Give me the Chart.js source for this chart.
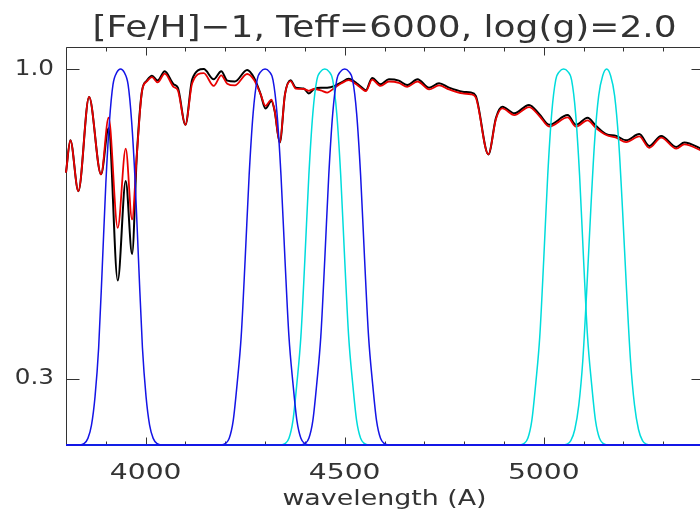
<!DOCTYPE html>
<html><head><meta charset="utf-8">
<script src="https://cdn.jsdelivr.net/npm/chart.js@4/dist/chart.umd.min.js"></script>
<style>html,body{margin:0;padding:0;overflow:hidden;background:#fff}</style>
</head><body>
<canvas id="c" width="708" height="515" style="width:708px;height:515px"></canvas>
<script>
const titleText = '[Fe/H]\u22121, Teff=6000, log(g)=2.0';
const xAxisTitle = 'wavelength (A)';
const xTickValues = [4000, 4500, 5000];
const yTickValues = [0.3, 1.0];

const specWave  = [3800,3811,3831,3858,3888,3907,3930,3950,3966,3978,3991,4003,4016,4030,4048,4070,4081,4100,4117,4146,4171,4190,4205,4224,4255,4272,4289,4301,4316,4324,4337,4350,4364,4377,4397,4410,4423,4440,4456,4475,4492,4510,4530,4544,4553,4569,4590,4611,4636,4657,4683,4712,4737,4762,4796,4817,4829,4861,4880,4896,4926,4963,4989,5014,5060,5081,5110,5131,5157,5182,5207,5240,5265,5295,5333,5353,5400];
const specBlack = [0.766,0.839,0.724,0.937,0.762,0.866,0.522,0.747,0.582,0.807,0.951,0.974,0.985,0.974,0.995,0.966,0.958,0.874,0.977,1.000,0.977,0.995,0.974,0.972,0.998,0.981,0.943,0.911,0.928,0.906,0.834,0.943,0.975,0.958,0.956,0.945,0.955,0.958,0.958,0.962,0.970,0.978,0.968,0.958,0.952,0.980,0.966,0.977,0.974,0.964,0.977,0.958,0.968,0.958,0.949,0.947,0.940,0.807,0.890,0.915,0.900,0.919,0.898,0.874,0.896,0.874,0.890,0.872,0.853,0.849,0.839,0.853,0.826,0.849,0.824,0.834,0.818];
const specRed   = [0.766,0.839,0.724,0.937,0.762,0.890,0.641,0.820,0.660,0.807,0.951,0.972,0.982,0.970,0.990,0.960,0.952,0.874,0.968,0.991,0.962,0.986,0.967,0.963,0.989,0.976,0.943,0.917,0.931,0.906,0.834,0.943,0.973,0.956,0.955,0.951,0.955,0.952,0.947,0.958,0.968,0.975,0.965,0.955,0.950,0.976,0.962,0.972,0.969,0.960,0.972,0.954,0.963,0.954,0.945,0.943,0.936,0.807,0.887,0.911,0.896,0.914,0.894,0.870,0.891,0.870,0.884,0.867,0.851,0.845,0.835,0.848,0.822,0.845,0.820,0.830,0.814];

const f1Wave  = [3800,3835,3845,3855,3864,3873,3882,3891,3900,3909,3918,3928,3937,3946,3956,3965,3974,3983,3992,4001,4010,4019,4029,4039,5400];
const f1Trans = [0.15,0.15,0.153,0.165,0.195,0.26,0.37,0.55,0.74,0.88,0.965,0.993,1.0,0.993,0.965,0.88,0.74,0.55,0.37,0.26,0.195,0.165,0.153,0.15,0.15];
const f2Wave  = [3800,4190,4200,4210,4220,4230,4240,4250,4260,4270,4280,4290,4300,4310,4320,4330,4340,4350,4360,4370,4380,4390,4400,4410,5400];
const f2Trans = [0.15,0.15,0.153,0.165,0.205,0.29,0.395,0.57,0.76,0.90,0.975,0.995,1.0,0.995,0.975,0.90,0.76,0.57,0.395,0.29,0.205,0.165,0.153,0.15,0.15];
const f3Wave  = [3800,4340,4350,4360,4370,4380,4390,4400,4410,4420,4430,4440,4450,4460,4470,4480,4490,4500,4510,4520,4530,4540,4550,4560,5400];
const f3Trans = [0.15,0.15,0.153,0.165,0.205,0.29,0.395,0.57,0.76,0.90,0.975,0.995,1.0,0.995,0.975,0.90,0.76,0.57,0.395,0.29,0.205,0.165,0.153,0.15,0.15];
const f4Wave  = [3800,4390,4400,4410,4420,4430,4440,4450,4460,4470,4480,4490,4500,4510,4520,4530,4540,4550,4560,4570,4580,4590,4600,4610,5400];
const f4Trans = [0.15,0.15,0.153,0.165,0.205,0.29,0.395,0.57,0.76,0.90,0.975,0.995,1.0,0.995,0.975,0.90,0.76,0.57,0.395,0.29,0.205,0.165,0.153,0.15,0.15];
const f5Wave  = [3800,4940,4950,4960,4970,4980,4990,5000,5010,5020,5030,5040,5050,5060,5070,5080,5090,5100,5110,5120,5130,5140,5150,5160,5400];
const f5Trans = [0.15,0.15,0.153,0.165,0.205,0.29,0.395,0.57,0.76,0.90,0.975,0.995,1.0,0.995,0.975,0.90,0.76,0.57,0.395,0.29,0.205,0.165,0.153,0.15,0.15];
const f6Wave  = [3800,5048,5058,5068,5078,5088,5098,5108,5118,5128,5138,5148,5158,5168,5178,5188,5198,5208,5218,5228,5238,5248,5258,5268,5400];
const f6Trans = [0.15,0.15,0.152,0.16,0.185,0.24,0.34,0.50,0.68,0.84,0.94,0.985,1.0,0.985,0.94,0.84,0.68,0.50,0.34,0.24,0.185,0.16,0.152,0.15,0.15];

const BLUE = '#1414e6', CYAN = '#00dcdc';
const pts = (xs, ys) => xs.map((x, i) => ({x: x, y: ys[i]}));
const line = (data, color, width, order) => ({
  data: data, borderColor: color, borderWidth: width, pointRadius: 0,
  cubicInterpolationMode: 'monotone', fill: false, order: order, clip: 4
});

const FONT = 'DejaVu Sans';
const INK = '#333';

const canvas = document.getElementById('c');
const ctx2d = canvas.getContext('2d');
// wide plot-style lettering: stretch glyphs horizontally around the anchor point
const origFillText = ctx2d.fillText.bind(ctx2d);
ctx2d.fillText = function (t, x, y, mw) {
  const s = String(t);
  let sx = 1.16;
  if (/^\d{4}$/.test(s)) sx = 1.28;
  else if (/^\d\.\d$/.test(s)) sx = 1.12;
  else if (s === xAxisTitle) sx = 1.22;
  this.save();
  this.translate(x, y);
  this.scale(sx, 1);
  origFillText(t, 0, 0);
  this.restore();
};

const framePlugin = {
  id: 'frame',
  beforeDatasetsDraw(chart) {
    const {ctx, chartArea: a, scales: {x, y}} = chart;
    ctx.save();
    ctx.strokeStyle = '#333';
    ctx.lineWidth = 1;
    const L = a.left + 0.5, R = a.right + 0.5, T = a.top + 0.5, B = a.bottom + 0.5;
    ctx.beginPath();
    ctx.moveTo(L, T); ctx.lineTo(R, T); ctx.lineTo(R, B); ctx.lineTo(L, B); ctx.closePath();
    for (let w = x.min; w <= x.max + 0.01; w += 100) {
      const px = Math.round(x.getPixelForValue(w)) + 0.5;
      const len = xTickValues.includes(w) ? 8 : 4;
      ctx.moveTo(px, B); ctx.lineTo(px, B - len);
      ctx.moveTo(px, T); ctx.lineTo(px, T + len);
    }
    yTickValues.forEach(v => {
      const py = Math.round(y.getPixelForValue(v)) + 0.5;
      ctx.moveTo(L, py); ctx.lineTo(L + 13, py);
      ctx.moveTo(R, py); ctx.lineTo(R - 12, py);
    });
    ctx.stroke();
    ctx.restore();
  }
};

new Chart(canvas, {
  type: 'line',
  data: {
    datasets: [
      line(pts(specWave, specBlack), '#000000', 2, 5),
      line(pts(specWave, specRed), '#e80000', 1.8, 4),
      line(pts(f3Wave, f3Trans), CYAN, 1.5, 2),
      line(pts(f5Wave, f5Trans), CYAN, 1.5, 2),
      line(pts(f6Wave, f6Trans), CYAN, 1.5, 2),
      line(pts(f1Wave, f1Trans), BLUE, 1.5, 1),
      line(pts(f2Wave, f2Trans), BLUE, 1.5, 1),
      line(pts(f4Wave, f4Trans), BLUE, 1.5, 1)
    ]
  },
  options: {
    responsive: false,
    animation: false,
    devicePixelRatio: 1,
    events: [],
    layout: {padding: {left: 0, right: 5, top: 0, bottom: 0}},
    plugins: {
      legend: {display: false},
      tooltip: {enabled: false},
      title: {
        display: true, text: titleText, fullSize: false, color: INK,
        font: {family: FONT, size: 31, weight: 'normal', lineHeight: 1.0},
        padding: {top: 13, bottom: 3}
      }
    },
    scales: {
      x: {
        type: 'linear', min: 3800, max: 5400,
        afterFit(s) { s.height = 70; },
        afterBuildTicks(s) { s.ticks = xTickValues.map(v => ({value: v})); },
        grid: {display: false, drawTicks: false},
        border: {display: false},
        ticks: {padding: 15, color: INK, font: {family: FONT, size: 22}, maxRotation: 0, callback: v => String(v)},
        title: {display: true, text: xAxisTitle, color: INK, font: {family: FONT, size: 22}, padding: {top: 0, bottom: 3}}
      },
      y: {
        type: 'linear', min: 0.15, max: 1.05,
        afterFit(s) { s.width = 66; },
        afterBuildTicks(s) { s.ticks = yTickValues.map(v => ({value: v})); },
        grid: {display: false, drawTicks: false},
        border: {display: false},
        ticks: {padding: 12, color: INK, font: {family: FONT, size: 22}, callback: v => v.toFixed(1)}
      }
    }
  },
  plugins: [framePlugin]
});
</script>
</body></html>
